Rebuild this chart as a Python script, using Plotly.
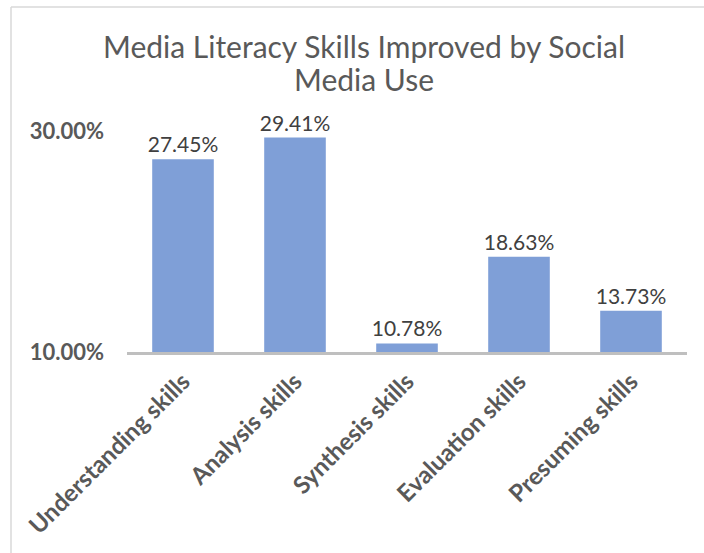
import plotly.graph_objects as go

categories = ["Understanding skills", "Analysis skills", "Synthesis skills",
              "Evaluation skills", "Presuming skills"]
values = [27.45, 29.41, 10.78, 18.63, 13.73]
tick_vals = [10, 30]
tick_text = ["10.00%", "30.00%"]
title_lines = ["Media Literacy Skills Improved by Social", "Media Use"]

W, H = 704, 553
L, R, T, B = 127, 17, 131, 201
pw, ph = W - L - R, H - T - B

font_family = "Lato, 'Open Sans', sans-serif"

fig = go.Figure(go.Bar(
    x=categories,
    y=values,
    marker=dict(color="#7F9FD7", line=dict(width=0)),
    width=0.55,
    text=[f"{v:.2f}%" for v in values],
    textposition="outside",
    constraintext="none",
    textfont=dict(size=21, color="#404040", family=font_family),
    cliponaxis=False,
))

# outer chart frame (top and left edges)
fx0 = (11 - L) / pw
fy1 = (H - B - 7) / ph
fig.add_shape(type="line", xref="paper", yref="paper", x0=fx0, x1=(W + 5 - L) / pw,
              y0=fy1, y1=fy1, line=dict(color="#D9D9D9", width=1.5))
fig.add_shape(type="line", xref="paper", yref="paper", x0=fx0, x1=fx0,
              y0=fy1, y1=-(B + 5) / ph, line=dict(color="#D9D9D9", width=1.5))

# two-line chart title
for line, yc in zip(title_lines, [46, 79]):
    fig.add_annotation(
        text=line, xref="paper", yref="paper",
        x=(364 - L) / pw, y=(H - B - yc) / ph,
        xanchor="center", yanchor="middle", showarrow=False,
        font=dict(size=30, color="#595959", family=font_family),
    )

fig.update_layout(
    width=W, height=H,
    margin=dict(l=L, r=R, t=T, b=B),
    paper_bgcolor="white", plot_bgcolor="white",
    showlegend=False,
    xaxis=dict(
        tickangle=-45,
        tickfont=dict(size=24, color="#595959", family=font_family, weight="bold"),
        showline=True, linecolor="#BFBFBF", linewidth=3,
        showgrid=False, ticks="", ticklabelstandoff=3,
    ),
    yaxis=dict(
        range=[10, 30],
        tickvals=tick_vals, ticktext=tick_text,
        tickfont=dict(size=22, color="#595959", family=font_family, weight="bold"),
        showgrid=True, gridcolor="#D9D9D9", gridwidth=1,
        zeroline=False, showline=False, ticks="", ticklabelstandoff=22,
    ),
    bargap=0.45,
)

fig.write_html("out.html")
